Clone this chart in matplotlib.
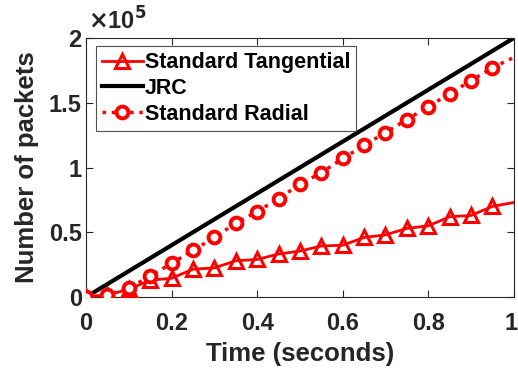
import matplotlib
matplotlib.use("Agg")
import matplotlib.pyplot as plt
import matplotlib.transforms as mtransforms

plt.rcParams["font.family"] = ["Liberation Sans", "DejaVu Sans"]
plt.rcParams["font.weight"] = "bold"

# time (s) and packet counts in units of 1e5
t = [0, 0.05, 0.1, 0.15, 0.2, 0.25, 0.3, 0.35, 0.4, 0.45, 0.5,
     0.55, 0.6, 0.65, 0.7, 0.75, 0.8, 0.85, 0.9, 0.95, 1.0]
tangential = [0, 0.015, 0.06, 0.13, 0.145, 0.215, 0.225, 0.28, 0.29, 0.332, 0.355,
              0.394, 0.40, 0.46, 0.48, 0.53, 0.55, 0.62, 0.63, 0.70, 0.73]
radial = [0, 0.015, 0.07, 0.16, 0.26, 0.36, 0.46, 0.57, 0.66, 0.76, 0.87,
          0.96, 1.07, 1.17, 1.27, 1.37, 1.47, 1.57, 1.67, 1.77, 1.85]
jrc_t = [0, 1.0]
jrc = [0, 2.0]

red = "#ff0000"
dark = "#262626"
fig = plt.figure(figsize=(5.18, 3.76), dpi=100)
ax = fig.add_axes([0.166, 0.21, 0.826, 0.689])

marks = list(range(len(t) - 1))  # no marker on the last sample
ax.plot(t, tangential, color=red, lw=2, marker="^", markersize=9.5,
        markerfacecolor="none", markeredgewidth=2.2, markevery=marks,
        label="Standard Tangential", zorder=3)
ax.plot(jrc_t, jrc, color="black", lw=3, label="JRC", zorder=2)
ax.plot(t, radial, color=red, lw=2.5, ls=":", marker="o", markersize=8.5,
        markerfacecolor="white", markeredgewidth=2.8, markevery=marks,
        label="Standard Radial", zorder=3)

ax.set_xlim(0, 1)
ax.set_ylim(0, 2)
ax.set_xticks([0, 0.2, 0.4, 0.6, 0.8, 1])
ax.set_xticklabels(["0", "0.2", "0.4", "0.6", "0.8", "1"])
ax.set_yticks([0, 0.5, 1, 1.5, 2])
ax.set_yticklabels(["0", "0.5", "1", "1.5", "2"])
ax.tick_params(direction="in", top=True, right=True, labelsize=17,
               colors=dark, length=5, width=0.8)
ax.tick_params(axis="x", pad=11)
ax.tick_params(axis="y", pad=3)
for s in ax.spines.values():
    s.set_color(dark)
    s.set_linewidth(0.8)

# pull the "1" at the right edge in a little so it is not clipped
lbl = ax.get_xticklabels()[-1]
lbl.set_transform(lbl.get_transform() + mtransforms.ScaledTranslation(-0.03, 0, fig.dpi_scale_trans))

ax.set_xlabel("Time (seconds)", fontsize=18.5, fontweight="bold", color=dark, labelpad=5)
ax.set_ylabel("Number of packets", fontsize=18.5, fontweight="bold", color=dark, labelpad=7)
ax.text(0.005, 1.012, r"$\times$10$^{\bf 5}$", transform=ax.transAxes,
        fontsize=17, color=dark, va="bottom", ha="left")

leg = ax.legend(loc="upper left", fontsize=15.5, handlelength=1.9, handletextpad=0.1,
                labelspacing=0.22, borderpad=0.28, borderaxespad=0, fancybox=False,
                bbox_to_anchor=(0.023, 0.969))
leg.get_frame().set_edgecolor(dark)
leg.get_frame().set_linewidth(0.8)

fig.savefig("out.png", dpi=100)
